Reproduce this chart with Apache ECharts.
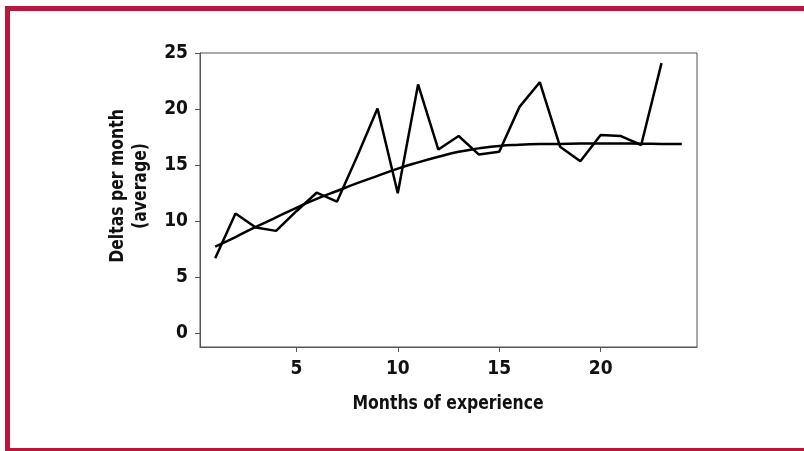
<!DOCTYPE html>
<html>
<head>
<meta charset="utf-8">
<script src="https://cdn.jsdelivr.net/npm/echarts@6/dist/echarts.min.js"></script>
<style>
  html, body { margin: 0; padding: 0; background: #fff; }
  #main { width: 804px; height: 451px; }
</style>
</head>
<body>
<div id="main"></div>
<script>
const months = [1, 2, 3, 4, 5, 6, 7, 8, 9, 10, 11, 12, 13, 14, 15, 16, 17, 18, 19, 20, 21, 22, 23, 24];
// monthly average deltas (23 months)
const deltas = [6.7, 10.7, 9.45, 9.15, 10.9, 12.55, 11.75, 15.8, 20.05, 12.5, 22.2, 16.4, 17.6, 15.95, 16.2, 20.2, 22.4, 16.65, 15.35, 17.7, 17.6, 16.8, 24.1];
// fitted trend curve
const trend = [7.75, 8.6, 9.5, 10.35, 11.2, 12.0, 12.7, 13.4, 14.05, 14.7, 15.25, 15.75, 16.2, 16.5, 16.72, 16.82, 16.88, 16.9, 16.93, 16.93, 16.93, 16.92, 16.9, 16.88];
const xTicks = [5, 10, 15, 20];
const yTicks = [0, 5, 10, 15, 20, 25];

const font = '"Liberation Sans Narrow", "DejaVu Sans Condensed", sans-serif';
const red = '#b8163a';

const chart = echarts.init(document.getElementById('main'), null, { renderer: 'canvas' });

const option = {
  animation: false,
  backgroundColor: '#fff',
  grid: {
    left: 200, right: 107, top: 53, bottom: 104,
    show: true, borderColor: '#555', borderWidth: 1
  },
  xAxis: {
    type: 'value',
    min: 0.25, max: 24.75,
    axisLine: { show: true, onZero: false, lineStyle: { color: '#555', width: 1 } },
    axisTick: { show: true, length: 5, customValues: xTicks, lineStyle: { color: '#555' } },
    axisLabel: { customValues: xTicks, margin: 13, fontFamily: font, fontWeight: 'bold', fontSize: 19, color: '#111' },
    splitLine: { show: false }
  },
  yAxis: {
    type: 'value',
    min: -1.2, max: 25,
    axisLine: { show: true, onZero: false, lineStyle: { color: '#555', width: 1 } },
    axisTick: { show: true, length: 5, customValues: yTicks, lineStyle: { color: '#555' } },
    axisLabel: { customValues: yTicks, margin: 12, fontFamily: font, fontWeight: 'bold', fontSize: 19, color: '#111' },
    splitLine: { show: false }
  },
  graphic: [
    { type: 'rect', shape: { x: 5, y: 6, width: 799, height: 5 }, style: { fill: red } },
    { type: 'rect', shape: { x: 5, y: 6, width: 5, height: 445 }, style: { fill: red } },
    { type: 'rect', shape: { x: 5, y: 448, width: 799, height: 3 }, style: { fill: red } },
    {
      type: 'text',
      x: 448, y: 404,
      scaleX: 0.87,
      style: {
        text: 'Months of experience',
        fontFamily: font, fontWeight: 'bold', fontSize: 20,
        fill: '#111',
        align: 'center', verticalAlign: 'middle'
      }
    },
    {
      type: 'text',
      x: 129, y: 186,
      rotation: Math.PI / 2,
      scaleX: 0.87,
      style: {
        text: 'Deltas per month\n(average)',
        fontFamily: font, fontWeight: 'bold', fontSize: 20,
        lineHeight: 23,
        fill: '#111',
        align: 'center', verticalAlign: 'middle'
      }
    }
  ],
  series: [
    {
      type: 'line',
      data: deltas.map((v, i) => [months[i], v]),
      symbol: 'none',
      lineStyle: { color: '#000', width: 2.5 }
    },
    {
      type: 'line',
      data: trend.map((v, i) => [months[i], v]),
      symbol: 'none',
      smooth: true,
      lineStyle: { color: '#000', width: 2.5 }
    }
  ]
};

chart.setOption(option);
</script>
</body>
</html>
